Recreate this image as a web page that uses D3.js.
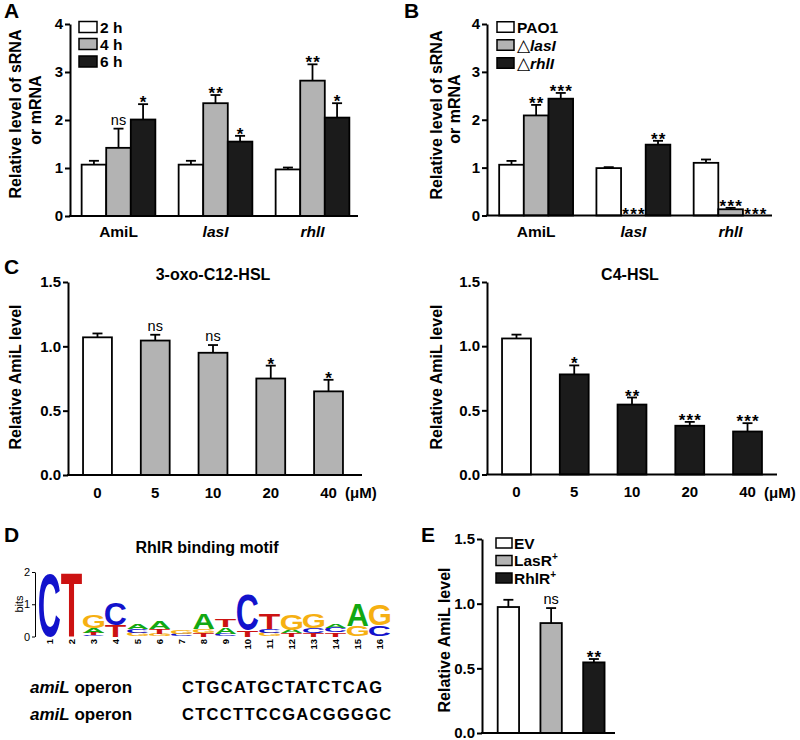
<!DOCTYPE html>
<html><head><meta charset="utf-8">
<script src="https://cdn.jsdelivr.net/npm/d3@7"></script>
<style>
body{margin:0;background:#fff}
svg{display:block}
text{font-family:"Liberation Sans",Arial,Helvetica,sans-serif}
</style>
</head><body>
<svg id="fig" width="800" height="740"></svg>
<script>
// ---------------- DATA ----------------
// Panel A
const aGroups = ["AmiL", "lasI", "rhlI"];
const aSeries = ["2 h", "4 h", "6 h"];
const aMeans = [[1.07, 1.42, 2.01], [1.07, 2.35, 1.55], [0.97, 2.82, 2.05]];
const aSem   = [[0.08, 0.40, 0.32], [0.08, 0.17, 0.12], [0.04, 0.34, 0.30]];
const aSig   = [["", "ns", "*"], ["", "**", "*"], ["", "**", "*"]];
// Panel B
const bGroups = ["AmiL", "lasI", "rhlI"];
const bSeries = ["PAO1", "lasI", "rhlI"];
const bMeans = [[1.06, 2.09, 2.44], [0.99, 0.0, 1.48], [1.10, 0.13, 0.0]];
const bSem   = [[0.08, 0.22, 0.12], [0.02, 0.0, 0.08], [0.07, 0.03, 0.0]];
const bSig   = [["", "**", "***"], ["", "***", "**"], ["", "***", "***"]];
const abTicks = [0, 1, 2, 3, 4];
// Panel C
const cDoses = ["0", "5", "10", "20", "40"];
const c1Title = "3-oxo-C12-HSL";
const c1Means = [1.07, 1.045, 0.95, 0.75, 0.65];
const c1Sem   = [0.03, 0.045, 0.06, 0.10, 0.09];
const c1Sig   = ["", "ns", "ns", "*", "*"];
const c2Title = "C4-HSL";
const c2Means = [1.06, 0.78, 0.545, 0.38, 0.335];
const c2Sem   = [0.03, 0.07, 0.055, 0.03, 0.065];
const c2Sig   = ["", "*", "**", "***", "***"];
const cTicks = [0, 0.5, 1.0, 1.5];
// Panel D (sequence logo, letters bottom->top, heights in bits)
const logoPositions = ["1","2","3","4","5","6","7","8","9","10","11","12","13","14","15","16"];
const logoStacks = [
  [["C", 1.96]],
  [["T", 1.97]],
  [["C", 0.05], ["T", 0.07], ["A", 0.15], ["G", 0.42]],
  [["T", 0.36], ["C", 0.67]],
  [["G", 0.11], ["C", 0.13], ["A", 0.14]],
  [["G", 0.09], ["T", 0.15], ["A", 0.25]],
  [["C", 0.07], ["G", 0.10]],
  [["T", 0.12], ["G", 0.12], ["A", 0.46]],
  [["C", 0.08], ["A", 0.20], ["T", 0.23]],
  [["T", 0.20], ["C", 1.10]],
  [["G", 0.10], ["C", 0.13], ["T", 0.47]],
  [["T", 0.10], ["A", 0.10], ["G", 0.49]],
  [["T", 0.10], ["C", 0.15], ["G", 0.44]],
  [["T", 0.13], ["C", 0.14], ["A", 0.12]],
  [["G", 0.34], ["A", 0.68]],
  [["C", 0.34], ["G", 0.66]]
];
const logoTicks = [0, 1, 2];
const dTitle = "RhlR binding motif";
const seqNames = ["amiL", "amiL"];
const seqs = ["CTGCATGCTATCTCAG", "CTCCTTCCGACGGGGC"];
// Panel E
const eStrains = ["EV", "LasR", "RhlR"];
const eMeans = [0.974, 0.85, 0.546];
const eSem   = [0.056, 0.116, 0.026];
const eSig   = ["", "ns", "**"];

// ---------------- STYLE ----------------
const FILLS = ["#ffffff", "#b3b3b3", "#1b1b1b"];
const LOGO_COL = {A: "#12a812", C: "#1212cc", G: "#f6b012", T: "#cc1212"};
const svg = d3.select("#fig");

function styleText(sel, size, weight) {
  sel.attr("font-size", size).attr("font-weight", weight || "bold").attr("fill", "#000");
}

function drawBar(g, y, x, w, mean, sem, sig, fill) {
  const top = y(mean), base = y(0);
  if (mean > 0) {
    g.append("rect").attr("x", x).attr("y", top).attr("width", w).attr("height", base - top)
      .attr("fill", fill).attr("stroke", "#000").attr("stroke-width", 1.8);
    if (sem > 0) {
      const cx = x + w / 2, et = y(mean + sem);
      g.append("line").attr("x1", cx).attr("x2", cx).attr("y1", top).attr("y2", et)
        .attr("stroke", "#000").attr("stroke-width", 1.8);
      g.append("line").attr("x1", cx - 5).attr("x2", cx + 5).attr("y1", et).attr("y2", et)
        .attr("stroke", "#000").attr("stroke-width", 1.8);
    }
  }
  if (sig) {
    const et = y(mean + sem), cx = x + w / 2;
    if (sig === "ns") {
      g.append("text").attr("x", cx).attr("y", et - 4).attr("text-anchor", "middle").text("ns")
        .call(styleText, 14.5, "normal");
    } else {
      g.append("text").attr("x", cx + 0.7).attr("y", et + 4).attr("text-anchor", "middle")
        .attr("letter-spacing", 1.2).text(sig).call(styleText, 17, "bold");
    }
  }
}

function yAxis(g, y, x, ticks, fmt) {
  const ax = d3.axisLeft(y).tickValues(ticks).tickFormat(fmt).tickSize(5).tickSizeOuter(0).tickPadding(2);
  const yg = g.append("g").attr("transform", `translate(${x},0)`).call(ax);
  yg.select(".domain").attr("stroke-width", 2);
  yg.selectAll(".tick line").attr("stroke-width", 2);
  yg.selectAll(".tick text").attr("font-family", null).call(styleText, 15, "bold");
  return yg;
}

function xLine(g, y, x0, x1) {
  g.append("line").attr("x1", x0 - 1).attr("x2", x1).attr("y1", y(0)).attr("y2", y(0))
    .attr("stroke", "#000").attr("stroke-width", 2);
}

function yTitle(g, lines) {
  lines.forEach(l => {
    g.append("text").attr("transform", `translate(${l.x},${l.cy})rotate(-90)`)
      .attr("text-anchor", "middle").text(l.t).call(styleText, 16, "bold");
  });
}

function panelLetter(t, x, y) {
  svg.append("text").attr("x", x).attr("y", y).text(t).call(styleText, 21, "bold");
}

// grouped bar panel (A, B)
function groupedPanel(cfg) {
  const g = svg.append("g");
  const y = d3.scaleLinear().domain([0, 4]).range([cfg.yBase, cfg.yTop]);
  const x0 = d3.scaleBand().domain(cfg.groups).range(cfg.range).paddingInner(0.24).paddingOuter(0.12);
  const x1 = d3.scaleBand().domain(d3.range(cfg.means[0].length)).range([0, x0.bandwidth()]);
  cfg.groups.forEach((grp, i) => {
    cfg.means[i].forEach((m, j) => {
      drawBar(g, y, x0(grp) + x1(j), x1.bandwidth(), m, cfg.sem[i][j], cfg.sig[i][j], FILLS[j]);
    });
  });
  xLine(g, y, cfg.axisX, cfg.axisEnd);
  yAxis(g, y, cfg.axisX, abTicks, d3.format("d"));
  const xa = d3.axisBottom(x0).tickSize(0).tickPadding(10);
  const xg = g.append("g").attr("transform", `translate(0,${y(0)})`).call(xa);
  xg.select(".domain").remove();
  xg.selectAll(".tick text").attr("font-family", null).call(styleText, 15.5, "bold")
    .attr("font-style", d => d === "AmiL" ? "normal" : "italic");
  // legend
  cfg.legendY.forEach((ly, j) => {
    g.append("rect").attr("x", cfg.legendX).attr("y", ly - cfg.legH / 2).attr("width", cfg.legW).attr("height", cfg.legH)
      .attr("fill", FILLS[j]).attr("stroke", "#000").attr("stroke-width", 1.5);
    const t = g.append("text").attr("x", cfg.legendX + cfg.legW + 3).attr("y", ly + 5.5).call(styleText, 15.5, "bold");
    cfg.legendLabel(t, j);
  });
  yTitle(g, cfg.titleLines);
}

// ---------------- PANEL A ----------------
groupedPanel({
  groups: aGroups, means: aMeans, sem: aSem, sig: aSig,
  yBase: 216, yTop: 24, range: [70, 361], axisX: 70, axisEnd: 358,
  legendX: 79, legendY: [27, 44, 61.5], legW: 18, legH: 11,
  legendLabel: (t, j) => t.text(aSeries[j]),
  titleLines: [{t: "Relative level of sRNA", x: 21, cy: 114}, {t: "or mRNA", x: 41, cy: 110}]
});
panelLetter("A", 4, 18);

// ---------------- PANEL B ----------------
groupedPanel({
  groups: bGroups, means: bMeans, sem: bSem, sig: bSig,
  yBase: 215.5, yTop: 24, range: [487.5, 779.25], axisX: 487, axisEnd: 772,
  legendX: 497, legendY: [27, 45, 63], legW: 17, legH: 10.5,
  legendLabel: (t, j) => {
    if (j === 0) { t.text(bSeries[0]); return; }
    t.append("tspan").attr("font-weight", "normal").attr("font-size", 17).text("\u25B3");
    t.append("tspan").attr("font-style", "italic").text(bSeries[j]);
  },
  titleLines: [{t: "Relative level of sRNA", x: 442, cy: 115}, {t: "or mRNA", x: 460, cy: 109}]
});
panelLetter("B", 404, 18);

// ---------------- PANEL C ----------------
function dosePanel(cfg) {
  const g = svg.append("g");
  const y = d3.scaleLinear().domain([0, 1.5]).range([cfg.yBase, cfg.yTop]);
  const x = d3.scaleBand().domain(cDoses).range(cfg.range).paddingInner(0.5).paddingOuter(0.25);
  cDoses.forEach((d, i) => {
    drawBar(g, y, x(d), x.bandwidth(), cfg.means[i], cfg.sem[i], cfg.sig[i], i === 0 ? FILLS[0] : cfg.fill);
  });
  xLine(g, y, cfg.axisX, cfg.axisEnd);
  yAxis(g, y, cfg.axisX, cTicks, d3.format(".1f"));
  const xa = d3.axisBottom(x).tickSize(0).tickPadding(12);
  const xg = g.append("g").attr("transform", `translate(0,${y(0)})`).call(xa);
  xg.select(".domain").remove();
  xg.selectAll(".tick text").attr("font-family", null).call(styleText, 15, "bold");
  g.append("text").attr("x", cfg.unitX).attr("y", 498).text("(\u03BCM)").call(styleText, 15, "bold");
  g.append("text").attr("x", cfg.titleX).attr("y", 280).attr("text-anchor", "middle").text(cfg.title).call(styleText, 16, "bold");
  yTitle(g, [{t: "Relative AmiL level", x: cfg.yTitleX, cy: 377}]);
}
dosePanel({means: c1Means, sem: c1Sem, sig: c1Sig, fill: FILLS[1], title: c1Title, titleX: 213,
  yBase: 475, yTop: 282, range: [68.6, 357.4], axisX: 68, axisEnd: 362, unitX: 345, yTitleX: 21});
dosePanel({means: c2Means, sem: c2Sem, sig: c2Sig, fill: FILLS[2], title: c2Title, titleX: 630,
  yBase: 474.5, yTop: 282, range: [487.6, 776.4], axisX: 487, axisEnd: 777, unitX: 764, yTitleX: 442});
panelLetter("C", 4, 274);

// ---------------- PANEL D ----------------
panelLetter("D", 4, 542);
svg.append("text").attr("x", 207).attr("y", 553).attr("text-anchor", "middle").text(dTitle).call(styleText, 16, "bold");
(function logo() {
  const g = svg.append("g");
  const y = d3.scaleLinear().domain([0, 2]).range([636.5, 572]);
  const x = d3.scaleBand().domain(logoPositions).range([39, 39 + 16 * 21.95]).paddingInner(0.04).paddingOuter(0);
  const ax = d3.axisLeft(y).tickValues(logoTicks).tickFormat(d3.format("d")).tickSize(3).tickSizeOuter(0).tickPadding(2);
  const yg = g.append("g").attr("transform", "translate(35,0)").call(ax);
  yg.select(".domain").attr("stroke-width", 1);
  yg.selectAll(".tick text").attr("font-family", null).call(styleText, 11, "normal");
  g.append("text").attr("transform", "translate(23,604)rotate(-90)").attr("text-anchor", "middle").text("bits").call(styleText, 11, "normal");
  // glyph metrics
  const ctx = document.createElement("canvas").getContext("2d");
  ctx.font = "bold 100px 'Liberation Sans', Arial, sans-serif";
  const met = {};
  ["A", "C", "G", "T"].forEach(L => {
    const m = ctx.measureText(L);
    met[L] = {l: m.actualBoundingBoxLeft, r: m.actualBoundingBoxRight, a: m.actualBoundingBoxAscent, d: m.actualBoundingBoxDescent};
  });
  logoPositions.forEach((p, i) => {
    let cum = 0;
    const w = x.bandwidth(), xl = x(p);
    logoStacks[i].forEach(([L, h]) => {
      const yb = y(cum), yt = y(cum + h), hp = yb - yt;
      cum += h;
      const m = met[L];
      const sx = w / (m.l + m.r), sy = hp / (m.a + m.d);
      g.append("text").attr("x", 0).attr("y", 0)
        .attr("transform", `translate(${xl},${yb})scale(${sx},${sy})translate(${m.l},${-m.d})`)
        .attr("font-size", 100).attr("font-weight", "bold").attr("fill", LOGO_COL[L]).text(L);
    });
    g.append("text").attr("transform", `translate(${xl + w / 2 + 3.5},639)rotate(-90)`)
      .attr("text-anchor", "end").text(p).call(styleText, 9.5, "bold");
  });
})();
seqNames.forEach((n, i) => {
  const yy = 693 + i * 27;
  const t = svg.append("text").attr("x", 30).attr("y", yy).call(styleText, 17, "bold");
  t.append("tspan").attr("font-style", "italic").text(n);
  t.append("tspan").text(" operon");
  svg.append("text").attr("x", 182).attr("y", yy).attr("letter-spacing", 1.3).text(seqs[i]).call(styleText, 16.5, "bold");
});

// ---------------- PANEL E ----------------
panelLetter("E", 421, 542);
(function panelE() {
  const g = svg.append("g");
  const y = d3.scaleLinear().domain([0, 1.5]).range([733, 539]);
  const x = d3.scaleBand().domain(eStrains).range([487, 615.25]).paddingInner(0.5).paddingOuter(0.25);
  eStrains.forEach((s, i) => drawBar(g, y, x(s), x.bandwidth(), eMeans[i], eSem[i], eSig[i], FILLS[i]));
  xLine(g, y, 482, 615);
  yAxis(g, y, 482, cTicks, d3.format(".1f"));
  const ly = [543, 560.5, 578];
  eStrains.forEach((s, j) => {
    g.append("rect").attr("x", 496).attr("y", ly[j] - 5).attr("width", 16).attr("height", 10)
      .attr("fill", FILLS[j]).attr("stroke", "#000").attr("stroke-width", 1.5);
    const t = g.append("text").attr("x", 514).attr("y", ly[j] + 5.5).call(styleText, 15.5, "bold");
    t.append("tspan").text(s);
    if (j > 0) t.append("tspan").attr("dy", -6).attr("font-size", 10).text("+");
  });
  yTitle(g, [{t: "Relative AmiL level", x: 450, cy: 640}]);
})();
</script>
</body></html>
